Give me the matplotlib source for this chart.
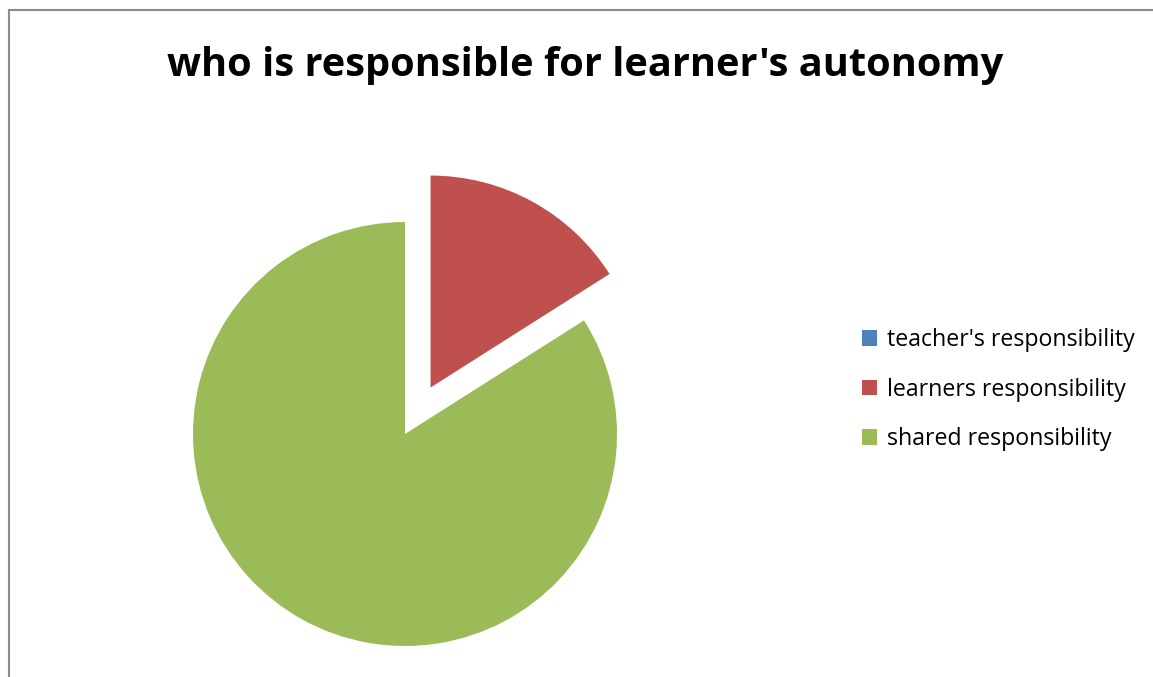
import matplotlib
matplotlib.use("Agg")
import matplotlib.pyplot as plt
from matplotlib.lines import Line2D

categories = ["teacher's responsibility", "learners responsibility", "shared responsibility"]
counts = [0, 4, 21]
colors = ["#4F81BD", "#C0504D", "#9BBB59"]
explode = [0, 0.25, 0]
title = "who is responsible for learner's autonomy"

W, H = 1153, 677
fig = plt.figure(figsize=(W / 100, H / 100), dpi=100)
fig.patch.set_facecolor("white")

# pie centre and radius in pixels, axes fills the figure so 1 unit = R px
cx, cy, R = 405, 434, 212
ax = fig.add_axes([0, 0, 1, 1])
wedges, _ = ax.pie(counts, colors=colors, explode=explode, startangle=90,
                   counterclock=False, radius=1,
                   wedgeprops=dict(linewidth=0))
ax.set_aspect("auto")
ax.set_xlim(-cx / R, (W - cx) / R)
ax.set_ylim(-(H - cy) / R, cy / R)
ax.axis("off")

fig.text(585 / W, 1 - 76 / H, title, ha="center", va="baseline",
         fontsize=28.6, fontweight="bold", family="Open Sans", color="black")

leg = fig.legend(wedges, categories, loc="upper left",
                 bbox_to_anchor=(862 / W, 1 - 328 / H), frameon=False,
                 prop=dict(family="Open Sans", size=16.7),
                 handlelength=0.65, handleheight=0.65, handletextpad=0.43,
                 labelspacing=1.1, borderpad=0, borderaxespad=0)

# thin grey chart border (runs off the right and bottom edges)
fig.add_artist(Line2D([8.5 / W, 8.5 / W], [1 - 9.5 / H, -0.1],
                      transform=fig.transFigure, color="#8C8C8C", linewidth=1.5))
fig.add_artist(Line2D([8.5 / W, 1.1], [1 - 9.5 / H, 1 - 9.5 / H],
                      transform=fig.transFigure, color="#8C8C8C", linewidth=1.5))

fig.savefig("out.png", dpi=100, facecolor="white")
